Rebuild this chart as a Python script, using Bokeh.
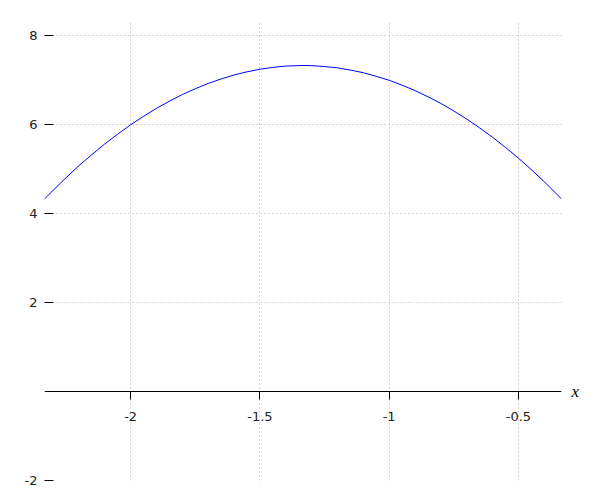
from bokeh.plotting import figure
from bokeh.models import LinearAxis, FixedTicker, Range1d, Grid
from bokeh.embed import file_html
from bokeh.resources import INLINE

# curve samples
xs = [-2.3333, -2.25, -2.2, -2.15, -2.1, -2.05, -2.0, -1.95, -1.9, -1.85, -1.8,
      -1.75, -1.7, -1.65, -1.6, -1.55, -1.5, -1.45, -1.4, -1.3333, -1.3, -1.25,
      -1.2, -1.15, -1.1, -1.05, -1.0, -0.95, -0.9, -0.85, -0.8, -0.75, -0.7,
      -0.65, -0.6, -0.55, -0.5, -0.45, -0.4, -0.3333]
ys = [4.333, 4.81, 5.08, 5.33, 5.57, 5.79, 6.0, 6.19, 6.37, 6.53, 6.68,
      6.81, 6.93, 7.03, 7.12, 7.19, 7.25, 7.29, 7.32, 7.333, 7.33, 7.31,
      7.28, 7.23, 7.17, 7.09, 7.0, 6.89, 6.77, 6.63, 6.48, 6.31, 6.13,
      5.93, 5.72, 5.49, 5.25, 4.99, 4.72, 4.333]

x_ticks = [-2, -1.5, -1, -0.5]
x_tick_labels = {-2: "-2", -1.5: "-1.5", -1: "-1", -0.5: "-0.5"}
y_ticks = [-2, 2, 4, 6, 8]
y_tick_labels = {-2: "-2", 2: "2", 4: "4", 6: "6", 8: "8"}
x_axis_name = "x"

p = figure(width=592, height=492, output_backend="svg", toolbar_location=None,
           x_axis_type=None, y_axis_type=None,
           x_range=Range1d(-2.3333, -0.3333), y_range=Range1d(-2.0, 8.3),
           min_border_left=44, min_border_right=31, min_border_top=22,
           min_border_bottom=12)
p.outline_line_color = None
p.background_fill_color = "white"
p.border_fill_color = "white"

# grids
for dim, tk in ((0, x_ticks), (1, y_ticks)):
    g = Grid(dimension=dim, ticker=FixedTicker(ticks=tk))
    g.grid_line_color = "#aaaaaa"
    g.grid_line_dash = "1 3"
    g.grid_line_width = 1
    p.add_layout(g, "center")

# y axis on the left, no axis line
yax = LinearAxis(ticker=FixedTicker(ticks=y_ticks), major_label_overrides=y_tick_labels)
yax.axis_line_color = None
yax.major_tick_in = 9
yax.major_tick_out = 0
yax.major_tick_line_color = "black"
yax.minor_tick_line_color = None
yax.major_label_standoff = 7
yax.major_label_text_font = "DejaVu Sans"
yax.major_label_text_font_size = "13px"
yax.major_label_text_color = "#222222"
p.add_layout(yax, "left")

# x axis drawn through y = 0
xax = LinearAxis(ticker=FixedTicker(ticks=x_ticks), major_label_overrides=x_tick_labels,
                 fixed_location=0)
xax.axis_line_color = "black"
xax.major_tick_in = 0
xax.major_tick_out = 8
xax.major_tick_line_color = "black"
xax.minor_tick_line_color = None
xax.major_label_standoff = 12
xax.major_label_text_font = "DejaVu Sans"
xax.major_label_text_font_size = "13px"
xax.major_label_text_color = "#222222"
p.add_layout(xax, "below")

# "x" name at the right end of the x axis (at y = 0)
nax = LinearAxis(ticker=FixedTicker(ticks=[0]), major_label_overrides={0: x_axis_name})
nax.axis_line_color = None
nax.major_tick_line_color = None
nax.minor_tick_line_color = None
nax.major_tick_in = 0
nax.major_tick_out = 0
nax.major_label_standoff = 10
nax.major_label_text_font = "Liberation Serif"
nax.major_label_text_font_style = "italic"
nax.major_label_text_font_size = "17px"
nax.major_label_text_color = "black"
p.add_layout(nax, "right")

p.line(xs, ys, line_color="#0000ff", line_width=1)

open("out.html", "w").write(file_html(p, INLINE))
